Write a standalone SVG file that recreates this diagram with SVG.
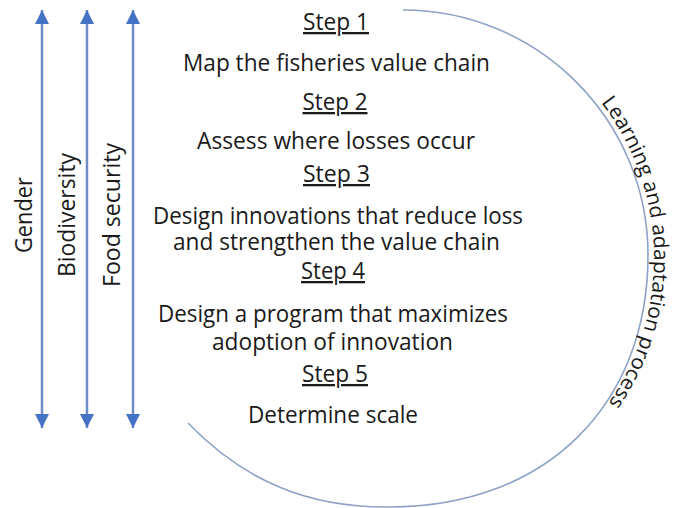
<svg xmlns="http://www.w3.org/2000/svg" width="677" height="508" viewBox="0 0 677 508">
  <style>
    text { font-family: "Open Sans", "Noto Sans", "Liberation Sans", sans-serif; fill: #1a1a1a; }
    .h { font-size: 23px; text-anchor: middle; }
    .step { text-decoration: underline; }
    .v { font-size: 24px; text-anchor: middle; }
    .c { font-size: 20.5px; }
    .arr { stroke: #6f8cc6; stroke-width: 2.5; fill: none; }
    .loop { stroke: #8ea1c7; stroke-width: 1.6; fill: none; }
  </style>
  <defs>
    <marker id="ah" viewBox="0 0 14 14" refX="14" refY="7" markerWidth="14" markerHeight="14" markerUnits="userSpaceOnUse" orient="auto-start-reverse">
      <path d="M0,0 L14,7 L0,14 Z" fill="#4472c4"/>
    </marker>
    <path id="loopText" d="M399,3 A255,255 0 0 1 399,513"/>
  </defs>
  <rect width="677" height="508" fill="#ffffff"/>

  <g id="connectors">
    <line class="arr" x1="42" y1="10" x2="42" y2="428" marker-start="url(#ah)" marker-end="url(#ah)"/>
    <line class="arr" x1="87" y1="10" x2="87" y2="428" marker-start="url(#ah)" marker-end="url(#ah)"/>
    <line class="arr" x1="133" y1="10" x2="133" y2="428" marker-start="url(#ah)" marker-end="url(#ah)"/>
    <path id="loop" class="loop" d="M403,10 C538,10 648,120 648,255 C648,406 545,507 390,507 C310,508 245,482 188,423"/>
  </g>

  <g id="gender"><text class="v" transform="translate(31.5,215) rotate(-90)" textLength="76" lengthAdjust="spacingAndGlyphs">Gender</text></g>
  <g id="biodiversity"><text class="v" transform="translate(75,215) rotate(-90)" textLength="124" lengthAdjust="spacingAndGlyphs">Biodiversity</text></g>
  <g id="food-security"><text class="v" transform="translate(120,215) rotate(-90)" textLength="144" lengthAdjust="spacingAndGlyphs">Food security</text></g>

  <g id="step1">
    <text class="h step" x="336" y="30" textLength="66" lengthAdjust="spacingAndGlyphs">Step 1</text>
    <text class="h" x="336.5" y="71" textLength="307" lengthAdjust="spacingAndGlyphs">Map the fisheries value chain</text>
  </g>
  <g id="step2">
    <text class="h step" x="335" y="110" textLength="65" lengthAdjust="spacingAndGlyphs">Step 2</text>
    <text class="h" x="336" y="149" textLength="278" lengthAdjust="spacingAndGlyphs">Assess where losses occur</text>
  </g>
  <g id="step3">
    <text class="h step" x="336.5" y="182" textLength="67" lengthAdjust="spacingAndGlyphs">Step 3</text>
    <text class="h" x="338" y="224" textLength="370" lengthAdjust="spacingAndGlyphs">Design innovations that reduce loss</text>
    <text class="h" x="336.5" y="250" textLength="327" lengthAdjust="spacingAndGlyphs">and strengthen the value chain</text>
  </g>
  <g id="step4">
    <text class="h step" x="333" y="279" textLength="64" lengthAdjust="spacingAndGlyphs">Step 4</text>
    <text class="h" x="333" y="322" textLength="350" lengthAdjust="spacingAndGlyphs">Design a program that maximizes</text>
    <text class="h" x="332.5" y="350" textLength="241" lengthAdjust="spacingAndGlyphs">adoption of innovation</text>
  </g>
  <g id="step5">
    <text class="h step" x="335" y="382" textLength="66" lengthAdjust="spacingAndGlyphs">Step 5</text>
    <text class="h" x="333" y="423" textLength="170" lengthAdjust="spacingAndGlyphs">Determine scale</text>
  </g>

  <g id="learning-label">
    <text class="c"><textPath href="#loopText" startOffset="233" textLength="322" lengthAdjust="spacingAndGlyphs">Learning and adaptation process</textPath></text>
  </g>
</svg>
